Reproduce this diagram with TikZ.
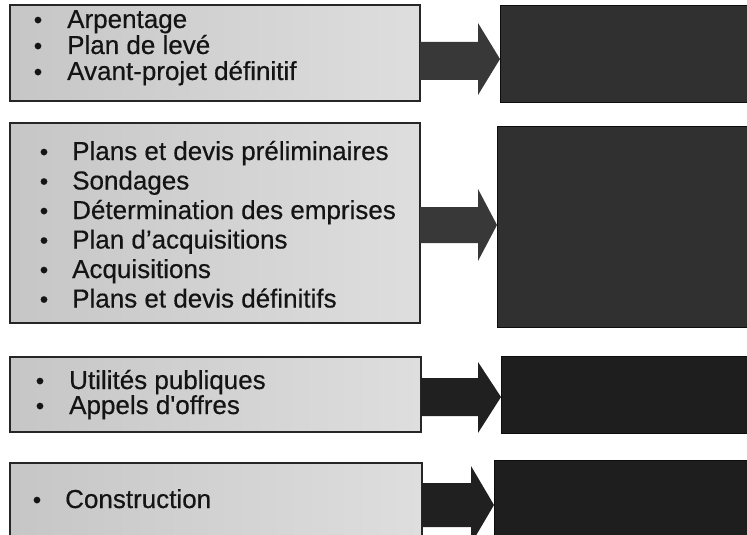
\documentclass[tikz,border=0pt]{standalone}
\usepackage{fontspec}
\setmainfont{Liberation Sans}
\newfontfamily\itemfont{Liberation Sans}[FakeBold=0.5]
\definecolor{lgA}{RGB}{198,198,198}
\definecolor{lgB}{RGB}{222,222,222}
\definecolor{dkA}{RGB}{48,48,48}
\definecolor{dkB}{RGB}{30,30,30}
\definecolor{arA}{RGB}{56,56,56}
\definecolor{arB}{RGB}{32,32,32}
\definecolor{txt}{RGB}{20,20,20}
\begin{document}
\begin{tikzpicture}[x=1pt,y=-1pt,
  lbox/.style={draw=black!85, line width=1.3pt, left color=lgA, right color=lgB, inner sep=0pt, outer sep=0pt},
  dbox/.style={draw=black!95, line width=1pt, fill=#1, inner sep=0pt, outer sep=0pt},
  item/.style={anchor=base west, inner sep=0pt, font=\itemfont\fontsize{26}{30}\selectfont, text=txt},
  bul/.style={anchor=base, inner sep=0pt, font=\itemfont\fontsize{24}{30}\selectfont, text=txt},
  arrowshape/.style={fill=#1}]
\useasboundingbox (0,0) rectangle (747,535);
\clip (0,0) rectangle (747,535);
\fill[white] (0,0) rectangle (747,535);

% left boxes
\node[lbox, minimum width=410pt, minimum height=96pt] (l1) at (215,53) {};
\node[lbox, minimum width=410pt, minimum height=200pt] (l2) at (215,223) {};
\node[lbox, minimum width=411pt, minimum height=75pt] (l3) at (215.5,394.5) {};
\node[lbox, minimum width=412pt, minimum height=82pt] (l4) at (216,504) {};

% dark boxes
\node[dbox=dkA, minimum width=250pt, minimum height=96pt] (d1) at (625,54) {};
\node[dbox=dkA, minimum width=253pt, minimum height=201pt] (d2) at (623.5,226.5) {};
\node[dbox=dkB, minimum width=249pt, minimum height=77pt] (d3) at (625.5,394.5) {};
\node[dbox=dkB, minimum width=256pt, minimum height=85pt] (d4) at (622,502.5) {};

% arrows
\fill[arrowshape=arA] (l1.east |- 0,42) -- (478,42) -- (478,23) -- (d1.west |- 0,59) -- (478,95) -- (478,80) -- (l1.east |- 0,80) -- cycle;
\fill[arrowshape=arA] (l2.east |- 0,207) -- (478,207) -- (478,189) -- (d2.west |- 0,225) -- (478,261) -- (478,243) -- (l2.east |- 0,243) -- cycle;
\fill[arrowshape=arB] (l3.east |- 0,378) -- (478,378) -- (478,362) -- (d3.west |- 0,397) -- (478,433) -- (478,416) -- (l3.east |- 0,416) -- cycle;
\fill[arrowshape=arB] (l4.east |- 0,483) -- (471,483) -- (471,466) -- (d4.west |- 0,505) -- (471,544) -- (471,527) -- (l4.east |- 0,527) -- cycle;

% box 1
\node[bul] (b11) at (38,28) {•};
\node[item] (t11) at (67,28) {Arpentage};
\node[bul] (b12) at (38,54) {•};
\node[item] (t12) at (67,54) {Plan de levé};
\node[bul] (b13) at (38,80) {•};
\node[item] (t13) at (67,80) {Avant-projet définitif};

% box 2
\node[bul] (b21) at (44,160) {•};
\node[item] (t21) at (72,160) {Plans et devis préliminaires};
\node[bul] (b22) at (44,189.5) {•};
\node[item] (t22) at (72,189.5) {Sondages};
\node[bul] (b23) at (44,219) {•};
\node[item] (t23) at (72,219) {Détermination des emprises};
\node[bul] (b24) at (44,248.5) {•};
\node[item] (t24) at (72,248.5) {Plan d’acquisitions};
\node[bul] (b25) at (44,278) {•};
\node[item] (t25) at (72,278) {Acquisitions};
\node[bul] (b26) at (44,307.5) {•};
\node[item] (t26) at (72,307.5) {Plans et devis définitifs};

% box 3
\node[bul] (b31) at (40,389) {•};
\node[item] (t31) at (69,389) {Utilités publiques};
\node[bul] (b32) at (40,414) {•};
\node[item] (t32) at (69,414) {Appels d'offres};

% box 4
\node[bul] (b41) at (37,508) {•};
\node[item] (t41) at (65,508) {Construction};
\end{tikzpicture}
\end{document}
